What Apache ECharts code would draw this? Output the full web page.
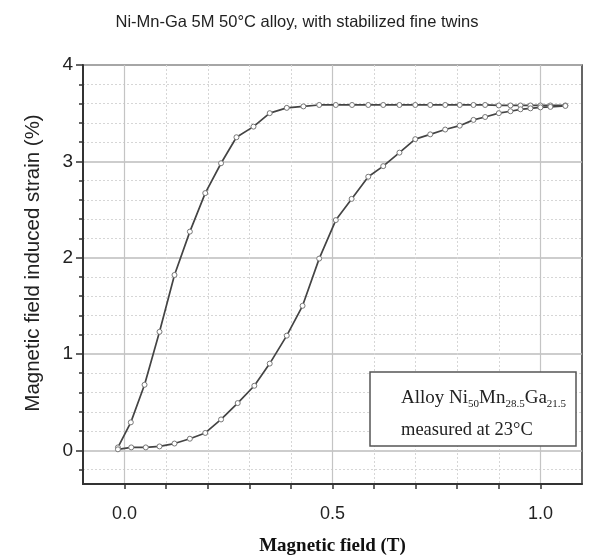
<!DOCTYPE html>
<html>
<head>
<meta charset="utf-8">
<script src="https://cdn.jsdelivr.net/npm/echarts@6/dist/echarts.min.js"></script>
<style>
  html, body { margin: 0; padding: 0; background: #fff; }
  #chart { width: 603px; height: 558px; }
</style>
</head>
<body>
<div id="chart"></div>
<script>
// upper branch (rises fast, then plateau)
var fieldUpper = [-0.016, 0.015, 0.048, 0.084, 0.12, 0.157, 0.194, 0.232, 0.269, 0.31, 0.349, 0.39, 0.43, 0.468, 0.508, 0.547,
    0.586, 0.622, 0.661, 0.699, 0.735, 0.771, 0.806, 0.839, 0.867, 0.9, 0.928, 0.952, 0.976, 1.0, 1.024, 1.06];
var strainUpper = [0.03, 0.29, 0.68, 1.23, 1.82, 2.27, 2.67, 2.98, 3.25, 3.36, 3.5, 3.555, 3.57, 3.585, 3.585, 3.585,
    3.585, 3.585, 3.585, 3.585, 3.585, 3.585, 3.585, 3.585, 3.585, 3.58, 3.58, 3.58, 3.58, 3.58, 3.58, 3.58];

// lower branch (slow start, S shape)
var fieldLower = [-0.016, 0.016, 0.051, 0.084, 0.12, 0.157, 0.194, 0.232, 0.272, 0.312, 0.349, 0.39, 0.428, 0.468, 0.508, 0.546,
    0.586, 0.622, 0.661, 0.699, 0.735, 0.771, 0.806, 0.839, 0.867, 0.9, 0.928, 0.952, 0.976, 1.0, 1.024, 1.06];
var strainLower = [0.01, 0.03, 0.03, 0.04, 0.07, 0.12, 0.18, 0.32, 0.49, 0.67, 0.9, 1.19, 1.5, 1.99, 2.39, 2.61,
    2.84, 2.95, 3.09, 3.23, 3.28, 3.33, 3.37, 3.43, 3.46, 3.5, 3.52, 3.54, 3.55, 3.56, 3.565, 3.575];

var xMajorTicks = [0, 0.5, 1.0];
var xMinorTicks = [0.1, 0.2, 0.3, 0.4, 0.6, 0.7, 0.8, 0.9];
var yMajorTicks = [0, 1, 2, 3, 4];
var yMinorTicks = [-0.2, 0.2, 0.4, 0.6, 0.8, 1.2, 1.4, 1.6, 1.8, 2.2, 2.4, 2.6, 2.8, 3.2, 3.4, 3.6, 3.8];

function pairs(xs, ys) {
    return xs.map(function (x, i) { return [x, ys[i]]; });
}

var chart = echarts.init(document.getElementById('chart'));

var lineStyleCommon = { color: '#444', width: 1.7 };
var markerStyle = { color: '#fff', borderColor: '#777', borderWidth: 1 };

chart.setOption({
    backgroundColor: '#fff',
    animation: false,
    grid: {
        left: 83, right: 21, top: 65, bottom: 74,
        containLabel: false, outerBoundsMode: 'none',
        show: true, borderColor: '#333', borderWidth: 1.5
    },
    xAxis: [{
        type: 'value', min: -0.1, max: 1.1,
        axisLine: { show: true, onZero: false, lineStyle: { color: '#333', width: 2 } },
        axisTick: { show: true, customValues: xMajorTicks.concat(xMinorTicks), length: 5, lineStyle: { color: '#333', width: 1.5 } },
        axisLabel: {
            customValues: xMajorTicks, margin: 21,
            formatter: function (v) { return v.toFixed(1); },
            fontFamily: 'Liberation Sans', fontSize: 18, color: '#222'
        },
        splitLine: { show: false },
        name: 'Magnetic field (T)', nameLocation: 'middle', nameGap: 53,
        nameTextStyle: { fontFamily: 'Liberation Serif', fontWeight: 'bold', fontSize: 19, color: '#111' }
    }, {
        type: 'value', min: -0.1, max: 1.1, position: 'bottom',
        axisLine: { show: false, onZero: false },
        axisTick: { show: false, customValues: xMinorTicks },
        axisLabel: { show: false },
        splitLine: { show: true, lineStyle: { color: '#d6d6d6', width: 1, type: [2, 2] } }
    }, {
        type: 'value', min: -0.1, max: 1.1, position: 'bottom',
        axisLine: { show: false, onZero: false },
        axisTick: { show: false, customValues: xMajorTicks },
        axisLabel: { show: false },
        splitLine: { show: true, lineStyle: { color: '#c4c4c4', width: 1.2 } }
    }],
    yAxis: [{
        type: 'value', min: -0.35, max: 4,
        axisLine: { show: true, onZero: false, lineStyle: { color: '#333', width: 2 } },
        axisTick: { show: true, customValues: yMajorTicks, length: 7, lineStyle: { color: '#333', width: 1.5 } },
        axisLabel: {
            customValues: yMajorTicks, margin: 10,
            fontFamily: 'Liberation Sans', fontSize: 19, color: '#222'
        },
        splitLine: { show: true, lineStyle: { color: '#bdbdbd', width: 1.5 } }
    }, {
        type: 'value', min: -0.35, max: 4, position: 'left',
        axisLine: { show: false, onZero: false },
        axisTick: { show: true, customValues: yMinorTicks, length: 4, lineStyle: { color: '#333', width: 1.5 } },
        axisLabel: { show: false },
        splitLine: { show: true, lineStyle: { color: '#d6d6d6', width: 1, type: [2, 2] } }
    }],
    graphic: [{
        type: 'text', x: 297, y: 22,
        style: {
            text: 'Ni-Mn-Ga 5M 50\u00b0C alloy, with stabilized fine twins',
            font: '16.5px "Liberation Sans"', fill: '#222',
            align: 'center', verticalAlign: 'middle'
        }
    }, {
        type: 'text', x: 33, y: 263, rotation: Math.PI / 2,
        style: {
            text: 'Magnetic field induced strain (%)',
            font: '20.5px "Liberation Sans"', fill: '#222',
            align: 'center', verticalAlign: 'middle'
        }
    }, {
        type: 'rect', shape: { x: 370, y: 372, width: 206, height: 74 },
        style: { fill: '#fff', stroke: '#555', lineWidth: 1.5 }, z: 10
    }, {
        type: 'text', x: 401, y: 398, z: 11,
        style: {
            text: '{n|Alloy Ni}{s|50}{n|Mn}{s|28.5}{n|Ga}{s|21.5}',
            fill: '#222',
            rich: {
                n: { fontFamily: 'Liberation Serif', fontSize: 19, lineHeight: 24, verticalAlign: 'middle', fill: '#222' },
                s: { fontFamily: 'Liberation Serif', fontSize: 11, lineHeight: 11, verticalAlign: 'bottom', fill: '#222' }
            },
            verticalAlign: 'middle'
        }
    }, {
        type: 'text', x: 401, y: 430, z: 11,
        style: {
            text: 'measured at 23\u00b0C',
            font: '18.5px "Liberation Serif"', fill: '#222',
            verticalAlign: 'middle'
        }
    }],
    series: [{
        type: 'line', name: 'upper', xAxisIndex: 0, yAxisIndex: 0,
        data: pairs(fieldUpper, strainUpper),
        symbol: 'circle', symbolSize: 5,
        lineStyle: lineStyleCommon, itemStyle: markerStyle, z: 5
    }, {
        type: 'line', name: 'lower', xAxisIndex: 0, yAxisIndex: 0,
        data: pairs(fieldLower, strainLower),
        symbol: 'circle', symbolSize: 5,
        lineStyle: lineStyleCommon, itemStyle: markerStyle, z: 5
    }]
});
</script>
</body>
</html>
